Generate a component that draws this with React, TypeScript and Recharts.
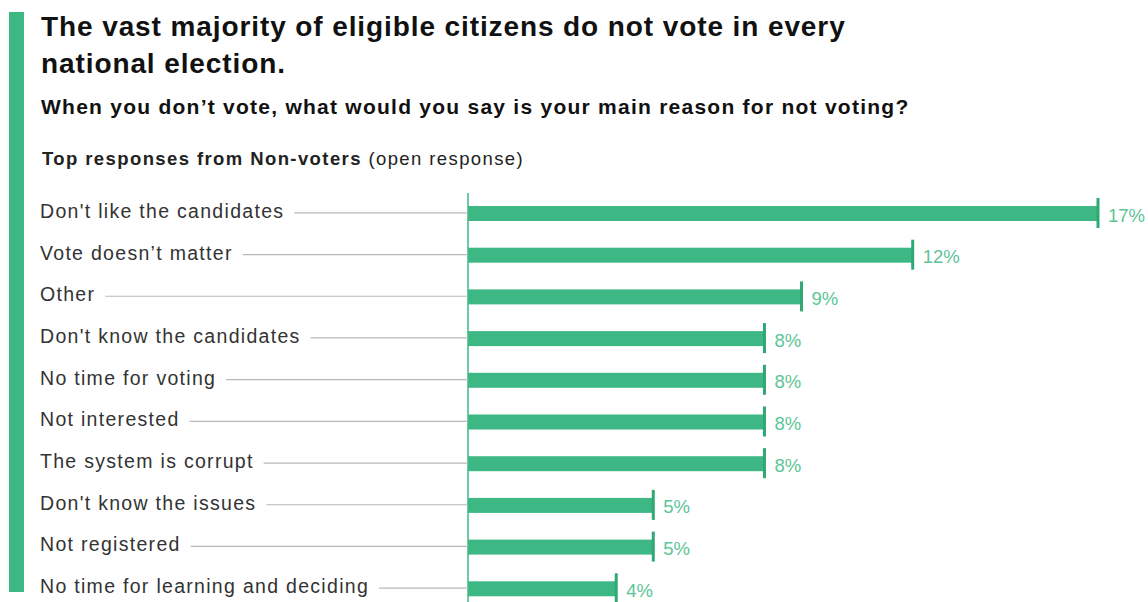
import { BarChart, Bar, XAxis, YAxis, LabelList } from 'recharts';

const reasons = [
  "Don't like the candidates",
  'Vote doesn\u2019t matter',
  'Other',
  "Don't know the candidates",
  'No time for voting',
  'Not interested',
  'The system is corrupt',
  "Don't know the issues",
  'Not registered',
  'No time for learning and deciding',
];
const shares = [17, 12, 9, 8, 8, 8, 8, 5, 5, 4];

const data = reasons.map((reason, i) => ({ reason, share: shares[i] }));

const FONT = '"Liberation Sans", Arial, Helvetica, sans-serif';
const GREEN = '#3db884';
const CAP = '#2fa873';
const AXIS_X = 468;
const LABEL_X = 40;
const LABEL_SIZE = 19.5;
const LABEL_SPACING = 1.3;

let ctx: CanvasRenderingContext2D | null = null;
function textWidth(s: string, size: number, spacing: number) {
  if (!ctx) ctx = document.createElement('canvas').getContext('2d');
  if (!ctx) return s.length * (size * 0.5 + spacing);
  ctx.font = `${size}px ${FONT}`;
  return ctx.measureText(s).width + s.length * spacing;
}

const ReasonTick = (props: any) => {
  const { y, payload } = props;
  const w = textWidth(payload.value, LABEL_SIZE, LABEL_SPACING);
  return (
    <g>
      <text
        x={LABEL_X}
        y={y + 4}
        fontSize={LABEL_SIZE}
        letterSpacing={LABEL_SPACING}
        fill="#333"
        fontFamily={FONT}
      >
        {payload.value}
      </text>
      <line x1={LABEL_X + w + 10} x2={AXIS_X} y1={y - 1} y2={y - 1} stroke="#b8b8b8" strokeWidth={1.2} />
    </g>
  );
};

const CappedBar = (props: any) => {
  const { x, y, width, height } = props;
  return (
    <g>
      <rect x={x} y={y} width={width} height={height} fill={GREEN} />
      <line x1={x + width} x2={x + width} y1={y - 8} y2={y + height + 7} stroke={CAP} strokeWidth={3} />
    </g>
  );
};

const ValueLabel = (props: any) => {
  const { x, y, width, height, value } = props;
  return (
    <text x={x + width + 10} y={y + height / 2 + 8} fontSize={18.5} fill="#5cc597" fontFamily={FONT}>
      {value}%
    </text>
  );
};

export default function App() {
  return (
    <div
      style={{
        position: 'absolute',
        left: 0,
        top: 0,
        width: 1148,
        height: 602,
        overflow: 'hidden',
        background: '#fff',
        fontFamily: FONT,
      }}
    >
      <div style={{ position: 'absolute', left: 9, top: 12, width: 15, height: 580, background: GREEN }} />
      <div
        style={{
          position: 'absolute',
          left: 41,
          top: 8,
          fontSize: 28,
          fontWeight: 700,
          lineHeight: '37px',
          letterSpacing: 0.9,
          color: '#111',
          whiteSpace: 'nowrap',
        }}
      >
        The vast majority of eligible citizens do not vote in every
        <br />
        national election.
      </div>
      <div
        style={{
          position: 'absolute',
          left: 41,
          top: 95,
          fontSize: 21,
          fontWeight: 700,
          letterSpacing: 1.25,
          color: '#111',
          whiteSpace: 'nowrap',
        }}
      >
        When you don’t vote, what would you say is your main reason for not voting?
      </div>
      <div
        style={{
          position: 'absolute',
          left: 42,
          top: 148,
          fontSize: 18.5,
          letterSpacing: 1.4,
          color: '#222',
          whiteSpace: 'nowrap',
        }}
      >
        <b>Top responses from Non-voters</b> (open response)
      </div>
      <div style={{ position: 'absolute', left: 0, top: 193 }}>
        <BarChart
          width={1148}
          height={417}
          data={data}
          layout="vertical"
          margin={{ top: 0, right: 50, bottom: 0, left: 0 }}
          barSize={15}
        >
          <XAxis type="number" domain={[0, 17]} hide />
          <YAxis
            type="category"
            dataKey="reason"
            width={AXIS_X}
            axisLine={{ stroke: GREEN, strokeWidth: 1.5 }}
            tickLine={false}
            tick={<ReasonTick />}
            interval={0}
          />
          <Bar dataKey="share" shape={<CappedBar />} isAnimationActive={false}>
            <LabelList dataKey="share" content={<ValueLabel />} />
          </Bar>
        </BarChart>
      </div>
    </div>
  );
}
